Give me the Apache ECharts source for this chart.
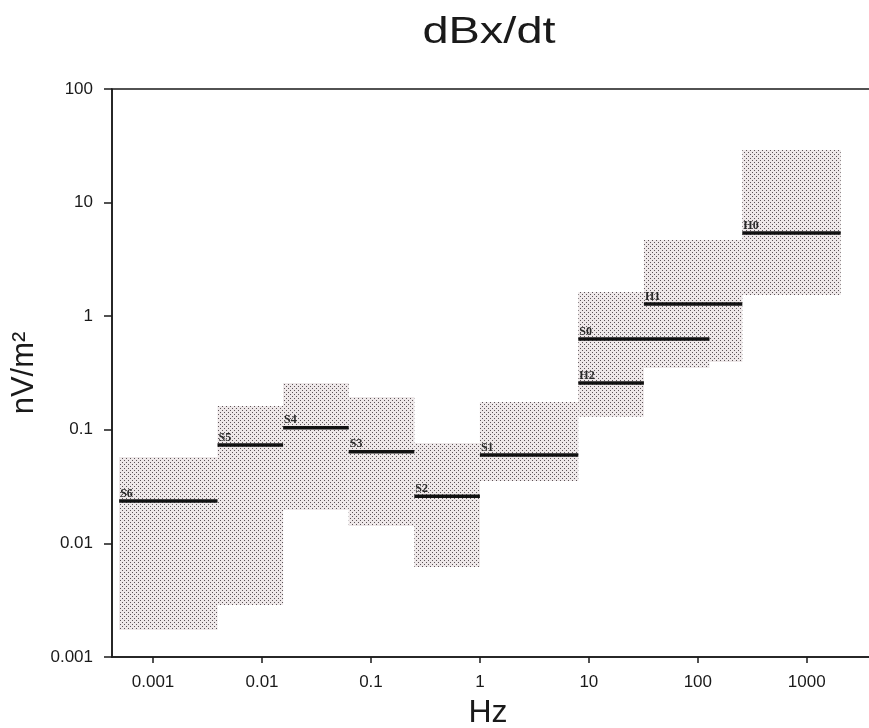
<!DOCTYPE html>
<html>
<head>
<meta charset="utf-8">
<script src="https://cdn.jsdelivr.net/npm/echarts@6/dist/echarts.min.js"></script>
<style>
  html, body { margin: 0; padding: 0; background: #fff; }
  #chart { width: 869px; height: 728px; }
</style>
</head>
<body>
<div id="chart"></div>
<script>
// Frequency bands (Hz) and dBx/dt levels (nV/m^2)
const bandNames = ['S6', 'S5', 'S4', 'S3', 'S2', 'S1', 'H2', 'S0', 'H1', 'H0'];
const bandLow   = [1/2048, 1/256, 1/64, 1/16, 1/4, 1, 8, 8, 32, 256];
const bandHigh  = [1/256, 1/64, 1/16, 1/4, 1, 8, 32, 128, 256, 2048];
const levelMid  = [0.0236, 0.0735, 0.104, 0.064, 0.026, 0.060, 0.258, 0.63, 1.28, 5.4];
const levelLow  = [0.00173, 0.00287, 0.0197, 0.0142, 0.0062, 0.0354, 0.130, 0.350, 0.395, 1.54];
const levelHigh = [0.0577, 0.162, 0.258, 0.194, 0.0766, 0.176, 0.514, 1.63, 4.69, 29.0];

// Axis ranges
const xRange = [0.00042, 4700];
const yRange = [0.001, 100];

// Stippled fill used for the level ranges
const tile = document.createElement('canvas');
tile.width = 4; tile.height = 4;
const tg = tile.getContext('2d');
tg.fillStyle = '#eee8e9';
tg.fillRect(0, 0, 4, 4);
tg.fillStyle = '#5c5357';
tg.fillRect(0, 0, 1, 1);
tg.fillRect(2, 2, 1, 1);
const stipple = { image: tile, repeat: 'repeat' };

const ink = '#1a1a1a';

function decadeLabel(v) {
  const e = Math.round(Math.log10(v));
  return e < 0 ? Math.pow(10, e).toFixed(-e) : String(Math.pow(10, e));
}

const boxData = bandNames.map((n, i) => [bandLow[i], bandHigh[i], levelLow[i], levelHigh[i]]);
const levelData = bandNames.map((n, i) => [bandLow[i], bandHigh[i], levelMid[i]]);

const chart = echarts.init(document.getElementById('chart'), null, { renderer: 'canvas' });

chart.setOption({
  animation: false,
  backgroundColor: '#fff',
  graphic: [{
    type: 'text',
    x: 489, y: 33,
    scaleX: 1.27,
    style: {
      text: 'dBx/dt',
      font: '37px "Liberation Sans", Arial, sans-serif',
      fill: ink,
      align: 'center',
      verticalAlign: 'middle'
    }
  }],
  grid: {
    left: 112, top: 89, right: -11, bottom: 71,
    outerBoundsMode: 'none',
    containLabel: false,
    show: true, borderColor: ink, borderWidth: 1.5,
    backgroundColor: 'transparent'
  },
  xAxis: {
    type: 'log', logBase: 10,
    min: xRange[0], max: xRange[1],
    splitNumber: 10,
    name: 'Hz', nameLocation: 'middle', nameGap: 40,
    nameTextStyle: { fontSize: 32, color: ink, fontFamily: 'Liberation Sans', padding: [0, 16, 0, 0] },
    axisLine: { lineStyle: { color: ink, width: 1.5 } },
    axisTick: { length: 6, lineStyle: { color: ink, width: 1.5 } },
    minorTick: { show: false },
    splitLine: { show: false },
    axisLabel: {
      showMinLabel: false, showMaxLabel: false,
      margin: 17, fontSize: 17, color: ink, fontFamily: 'Liberation Sans',
      formatter: decadeLabel
    }
  },
  yAxis: {
    type: 'log', logBase: 10,
    min: yRange[0], max: yRange[1],
    splitNumber: 10,
    name: 'nV/m²', nameLocation: 'middle', nameGap: 70,
    nameTextStyle: { fontSize: 31, color: ink, fontFamily: 'Liberation Sans' },
    axisLine: { lineStyle: { color: ink, width: 1.5 } },
    axisTick: { length: 8, lineStyle: { color: ink, width: 1.5 } },
    minorTick: { show: false },
    splitLine: { show: false },
    axisLabel: {
      margin: 19, fontSize: 17, color: ink, fontFamily: 'Liberation Sans',
      formatter: decadeLabel
    }
  },
  series: [
    {
      // level ranges per band
      type: 'custom',
      data: boxData,
      encode: { x: [0, 1], y: [2, 3] },
      silent: true,
      z: 1,
      renderItem: function (params, api) {
        const p0 = api.coord([api.value(0), api.value(3)]);
        const p1 = api.coord([api.value(1), api.value(2)]);
        return {
          type: 'rect',
          shape: { x: p0[0], y: p0[1], width: p1[0] - p0[0], height: p1[1] - p0[1] },
          style: { fill: stipple }
        };
      }
    },
    {
      // median level per band with its name
      type: 'custom',
      data: levelData,
      encode: { x: [0, 1], y: 2 },
      silent: true,
      z: 3,
      renderItem: function (params, api) {
        const a = api.coord([api.value(0), api.value(2)]);
        const b = api.coord([api.value(1), api.value(2)]);
        return {
          type: 'group',
          children: [
            {
              type: 'line',
              shape: { x1: a[0], y1: a[1], x2: b[0], y2: b[1] },
              style: { stroke: '#111', lineWidth: 3.5 }
            },
            {
              type: 'text',
              x: a[0] + 1, y: a[1] - 1.5,
              style: {
                text: bandNames[params.dataIndex],
                font: 'bold 12px "Liberation Serif", "DejaVu Serif", serif',
                fill: '#2a2a2a',
                align: 'left',
                verticalAlign: 'bottom'
              }
            }
          ]
        };
      }
    }
  ]
});
</script>
</body>
</html>
